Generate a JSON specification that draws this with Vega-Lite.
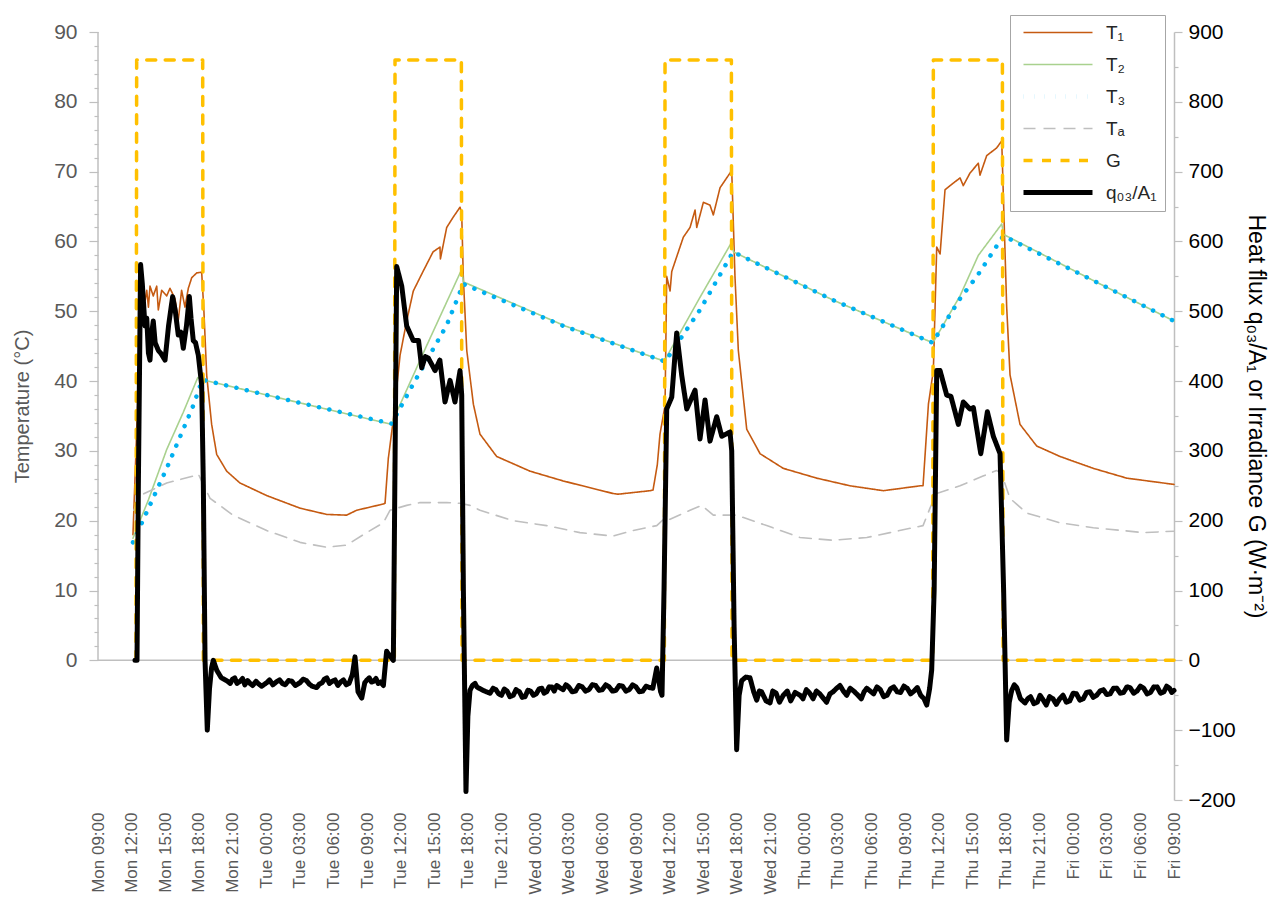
{
  "$schema": "https://vega.github.io/schema/vega-lite/v6.json",
  "width": 1076,
  "height": 768,
  "autosize": {"type": "none"},
  "padding": {"left": 98, "top": 32, "right": 105, "bottom": 99},
  "background": "white",
  "config": {
    "view": {"stroke": null},
    "font": "Liberation Sans",
    "axis": {"grid": false, "titleFontWeight": "normal", "labelOverlap": false},
    "line": {"strokeCap": "round", "strokeJoin": "round"}
  },
  "data": {"values": [
    {"s":"T1","h":12.12,"v":18},{"s":"T1","h":12.5,"v":35},{"s":"T1","h":12.8,"v":50},{"s":"T1","h":13.0,"v":53.5},{"s":"T1","h":13.2,"v":51.5},{"s":"T1","h":13.35,"v":53},{"s":"T1","h":13.5,"v":50.6},{"s":"T1","h":13.64,"v":53.6},{"s":"T1","h":13.93,"v":52.2},{"s":"T1","h":14.24,"v":53.6},{"s":"T1","h":14.38,"v":50.2},{"s":"T1","h":14.68,"v":53},{"s":"T1","h":15.13,"v":52.2},{"s":"T1","h":15.42,"v":53.3},{"s":"T1","h":15.87,"v":51.8},{"s":"T1","h":16.16,"v":48.7},{"s":"T1","h":16.46,"v":53},{"s":"T1","h":16.76,"v":50.6},{"s":"T1","h":17.06,"v":53.3},{"s":"T1","h":17.36,"v":54.8},{"s":"T1","h":17.81,"v":55.5},{"s":"T1","h":18.25,"v":55.6},{"s":"T1","h":18.45,"v":50},{"s":"T1","h":18.7,"v":40.8},{"s":"T1","h":19.14,"v":33.8},{"s":"T1","h":19.59,"v":29.5},{"s":"T1","h":20.48,"v":27.1},{"s":"T1","h":21.67,"v":25.4},{"s":"T1","h":24.05,"v":23.6},{"s":"T1","h":27.02,"v":21.8},{"s":"T1","h":29.41,"v":20.9},{"s":"T1","h":31.19,"v":20.8},{"s":"T1","h":32.08,"v":21.5},{"s":"T1","h":34.46,"v":22.4},{"s":"T1","h":34.61,"v":22.5},{"s":"T1","h":34.9,"v":28.9},{"s":"T1","h":35.35,"v":34.5},{"s":"T1","h":35.95,"v":43.7},{"s":"T1","h":36.54,"v":48.6},{"s":"T1","h":37.13,"v":52.9},{"s":"T1","h":38.0,"v":55.7},{"s":"T1","h":38.89,"v":58.5},{"s":"T1","h":39.51,"v":59.2},{"s":"T1","h":39.55,"v":57.5},{"s":"T1","h":40.11,"v":62},{"s":"T1","h":40.7,"v":63.5},{"s":"T1","h":41.3,"v":64.9},{"s":"T1","h":41.45,"v":64},{"s":"T1","h":41.59,"v":55},{"s":"T1","h":41.9,"v":44.4},{"s":"T1","h":42.49,"v":36.7},{"s":"T1","h":43.08,"v":32.4},{"s":"T1","h":44.57,"v":29.2},{"s":"T1","h":47.54,"v":27.1},{"s":"T1","h":50.49,"v":25.7},{"s":"T1","h":54.95,"v":23.9},{"s":"T1","h":55.4,"v":23.8},{"s":"T1","h":58.25,"v":24.3},{"s":"T1","h":58.52,"v":24.4},{"s":"T1","h":58.9,"v":28},{"s":"T1","h":59.14,"v":32.4},{"s":"T1","h":59.59,"v":36.5},{"s":"T1","h":59.74,"v":55},{"s":"T1","h":60.04,"v":52.9},{"s":"T1","h":60.19,"v":55.7},{"s":"T1","h":60.63,"v":57.8},{"s":"T1","h":61.22,"v":60.6},{"s":"T1","h":61.82,"v":62},{"s":"T1","h":62.27,"v":64.5},{"s":"T1","h":62.42,"v":62},{"s":"T1","h":63.01,"v":65.6},{"s":"T1","h":63.6,"v":65.2},{"s":"T1","h":63.9,"v":63.8},{"s":"T1","h":64.5,"v":67.7},{"s":"T1","h":65.39,"v":69.8},{"s":"T1","h":65.54,"v":70.2},{"s":"T1","h":65.83,"v":55},{"s":"T1","h":66.13,"v":44.4},{"s":"T1","h":66.88,"v":33.1},{"s":"T1","h":68.07,"v":29.6},{"s":"T1","h":70.14,"v":27.5},{"s":"T1","h":73.12,"v":26.1},{"s":"T1","h":76.1,"v":25},{"s":"T1","h":79.07,"v":24.3},{"s":"T1","h":82.34,"v":25},{"s":"T1","h":82.61,"v":25},{"s":"T1","h":83.09,"v":36.7},{"s":"T1","h":83.53,"v":41.5},{"s":"T1","h":83.83,"v":59.2},{"s":"T1","h":84.13,"v":58.2},{"s":"T1","h":84.57,"v":67.4},{"s":"T1","h":85.02,"v":68},{"s":"T1","h":85.91,"v":69.1},{"s":"T1","h":86.2,"v":68},{"s":"T1","h":86.8,"v":69.8},{"s":"T1","h":87.54,"v":71.2},{"s":"T1","h":87.69,"v":69.5},{"s":"T1","h":88.29,"v":72.3},{"s":"T1","h":89.18,"v":73.4},{"s":"T1","h":89.63,"v":74.4},{"s":"T1","h":89.86,"v":62},{"s":"T1","h":90.07,"v":50.7},{"s":"T1","h":90.37,"v":40.9},{"s":"T1","h":91.26,"v":33.8},{"s":"T1","h":92.75,"v":30.7},{"s":"T1","h":94.83,"v":29.2},{"s":"T1","h":97.8,"v":27.5},{"s":"T1","h":100.78,"v":26.1},{"s":"T1","h":105,"v":25.2},

    {"s":"T2","h":12.12,"v":17.5},{"s":"T2","h":13.5,"v":23},{"s":"T2","h":15.13,"v":30.2},{"s":"T2","h":16.6,"v":35.5},{"s":"T2","h":17.9,"v":40.5},{"s":"T2","h":18.3,"v":40.2},{"s":"T2","h":26.7,"v":37},{"s":"T2","h":35.2,"v":33.8},{"s":"T2","h":35.35,"v":34.5},{"s":"T2","h":38.3,"v":45},{"s":"T2","h":41.45,"v":56},{"s":"T2","h":41.6,"v":54.2},{"s":"T2","h":50.67,"v":47.9},{"s":"T2","h":59.6,"v":42.8},{"s":"T2","h":59.74,"v":43.5},{"s":"T2","h":62.71,"v":52},{"s":"T2","h":65.54,"v":59.9},{"s":"T2","h":65.7,"v":58.5},{"s":"T2","h":74.58,"v":51.6},{"s":"T2","h":83.45,"v":45.5},{"s":"T2","h":83.53,"v":45.6},{"s":"T2","h":85.91,"v":52.2},{"s":"T2","h":87.54,"v":58},{"s":"T2","h":89.63,"v":62.5},{"s":"T2","h":89.8,"v":61},{"s":"T2","h":97.8,"v":54.4},{"s":"T2","h":105,"v":48.6},

    {"s":"T3","h":12.12,"v":16.9},{"s":"T3","h":15.13,"v":27.5},{"s":"T3","h":17.5,"v":36.5},{"s":"T3","h":18.3,"v":40.2},{"s":"T3","h":26.7,"v":37},{"s":"T3","h":35.2,"v":33.9},{"s":"T3","h":37.13,"v":39.6},{"s":"T3","h":40.11,"v":48},{"s":"T3","h":41.59,"v":53.9},{"s":"T3","h":50.67,"v":47.8},{"s":"T3","h":59.6,"v":42.8},{"s":"T3","h":62.71,"v":50.2},{"s":"T3","h":65.66,"v":58.5},{"s":"T3","h":74.58,"v":51.6},{"s":"T3","h":83.45,"v":45.5},{"s":"T3","h":85.91,"v":51.8},{"s":"T3","h":87.54,"v":55.3},{"s":"T3","h":89.77,"v":60.8},{"s":"T3","h":97.8,"v":54.4},{"s":"T3","h":105,"v":48.6},

    {"s":"Ta","h":12.2,"v":21.5},{"s":"Ta","h":12.75,"v":23.6},{"s":"Ta","h":15.13,"v":25.4},{"s":"Ta","h":17.5,"v":26.4},{"s":"Ta","h":17.95,"v":26.7},{"s":"Ta","h":18.3,"v":25.5},{"s":"Ta","h":19.0,"v":23.2},{"s":"Ta","h":21.05,"v":20.8},{"s":"Ta","h":24.05,"v":18.6},{"s":"Ta","h":27.02,"v":16.9},{"s":"Ta","h":29.41,"v":16.2},{"s":"Ta","h":31.19,"v":16.5},{"s":"Ta","h":32.97,"v":18.3},{"s":"Ta","h":34.46,"v":19.7},{"s":"Ta","h":35.05,"v":21.5},{"s":"Ta","h":36.54,"v":22.2},{"s":"Ta","h":37.73,"v":22.6},{"s":"Ta","h":40.11,"v":22.6},{"s":"Ta","h":41.3,"v":22.5},{"s":"Ta","h":42.19,"v":22.2},{"s":"Ta","h":43.08,"v":21.5},{"s":"Ta","h":46.05,"v":20.0},{"s":"Ta","h":49.03,"v":19.3},{"s":"Ta","h":52.0,"v":18.3},{"s":"Ta","h":54.95,"v":17.8},{"s":"Ta","h":56.73,"v":18.6},{"s":"Ta","h":58.85,"v":19.3},{"s":"Ta","h":59.59,"v":20.4},{"s":"Ta","h":60.04,"v":20.2},{"s":"Ta","h":61.82,"v":21.5},{"s":"Ta","h":62.86,"v":22.2},{"s":"Ta","h":63.9,"v":20.8},{"s":"Ta","h":65.98,"v":20.8},{"s":"Ta","h":68.66,"v":19.3},{"s":"Ta","h":71.63,"v":17.6},{"s":"Ta","h":74.58,"v":17.2},{"s":"Ta","h":77.59,"v":17.6},{"s":"Ta","h":79.66,"v":18.3},{"s":"Ta","h":82.61,"v":19.3},{"s":"Ta","h":83.23,"v":21.8},{"s":"Ta","h":83.83,"v":23.9},{"s":"Ta","h":85.91,"v":25.0},{"s":"Ta","h":87.96,"v":26.4},{"s":"Ta","h":89.18,"v":27.2},{"s":"Ta","h":89.6,"v":26.8},{"s":"Ta","h":90.37,"v":23.2},{"s":"Ta","h":91.86,"v":21.1},{"s":"Ta","h":94.83,"v":19.7},{"s":"Ta","h":97.8,"v":19.0},{"s":"Ta","h":102.26,"v":18.3},{"s":"Ta","h":105,"v":18.5},

    {"s":"G","h":12.39,"v":0},{"s":"G","h":12.45,"v":860},{"s":"G","h":18.34,"v":860},{"s":"G","h":18.4,"v":0},{"s":"G","h":35.44,"v":0},{"s":"G","h":35.5,"v":860},{"s":"G","h":41.42,"v":860},{"s":"G","h":41.48,"v":0},{"s":"G","h":59.53,"v":0},{"s":"G","h":59.59,"v":860},{"s":"G","h":65.51,"v":860},{"s":"G","h":65.57,"v":0},{"s":"G","h":83.47,"v":0},{"s":"G","h":83.53,"v":860},{"s":"G","h":89.69,"v":860},{"s":"G","h":89.75,"v":0},{"s":"G","h":105,"v":0},

    {"s":"q","h":12.3,"v":0},{"s":"q","h":12.48,"v":0},{"s":"q","h":12.6,"v":250},{"s":"q","h":12.8,"v":567},{"s":"q","h":12.95,"v":540},{"s":"q","h":13.19,"v":479},{"s":"q","h":13.35,"v":490},{"s":"q","h":13.5,"v":440},{"s":"q","h":13.64,"v":430},{"s":"q","h":13.8,"v":470},{"s":"q","h":13.93,"v":486},{"s":"q","h":14.1,"v":455},{"s":"q","h":14.38,"v":444},{"s":"q","h":14.6,"v":440},{"s":"q","h":14.98,"v":430},{"s":"q","h":15.3,"v":480},{"s":"q","h":15.66,"v":521},{"s":"q","h":15.9,"v":500},{"s":"q","h":16.16,"v":466},{"s":"q","h":16.4,"v":470},{"s":"q","h":16.61,"v":447},{"s":"q","h":16.9,"v":480},{"s":"q","h":17.15,"v":521},{"s":"q","h":17.3,"v":490},{"s":"q","h":17.5,"v":458},{"s":"q","h":17.7,"v":455},{"s":"q","h":17.95,"v":437},{"s":"q","h":18.25,"v":394},{"s":"q","h":18.4,"v":250},{"s":"q","h":18.55,"v":0},{"s":"q","h":18.75,"v":-100},{"s":"q","h":18.95,"v":-40},{"s":"q","h":19.14,"v":-10},{"s":"q","h":19.29,"v":0},{"s":"q","h":19.59,"v":-14},{"s":"q","h":20.0,"v":-25},{"s":"q","h":20.48,"v":-29},{"s":"q","h":20.8,"v":-33},{"s":"q","h":21.0,"v":-27},{"s":"q","h":21.2,"v":-25},{"s":"q","h":21.4,"v":-33},{"s":"q","h":21.67,"v":-30},{"s":"q","h":21.9,"v":-26},{"s":"q","h":22.1,"v":-35},{"s":"q","h":22.35,"v":-29},{"s":"q","h":22.56,"v":-33},{"s":"q","h":22.8,"v":-36},{"s":"q","h":23.1,"v":-30},{"s":"q","h":23.35,"v":-34},{"s":"q","h":23.6,"v":-37},{"s":"q","h":24.05,"v":-32},{"s":"q","h":24.3,"v":-28},{"s":"q","h":24.6,"v":-35},{"s":"q","h":24.9,"v":-31},{"s":"q","h":25.2,"v":-28},{"s":"q","h":25.45,"v":-33},{"s":"q","h":25.7,"v":-35},{"s":"q","h":26.0,"v":-29},{"s":"q","h":26.3,"v":-30},{"s":"q","h":26.6,"v":-36},{"s":"q","h":27.02,"v":-32},{"s":"q","h":27.3,"v":-27},{"s":"q","h":27.6,"v":-29},{"s":"q","h":27.85,"v":-34},{"s":"q","h":28.1,"v":-37},{"s":"q","h":28.51,"v":-39},{"s":"q","h":28.75,"v":-34},{"s":"q","h":29.0,"v":-32},{"s":"q","h":29.2,"v":-27},{"s":"q","h":29.41,"v":-25},{"s":"q","h":29.65,"v":-33},{"s":"q","h":29.9,"v":-30},{"s":"q","h":30.15,"v":-28},{"s":"q","h":30.4,"v":-36},{"s":"q","h":30.65,"v":-31},{"s":"q","h":30.9,"v":-28},{"s":"q","h":31.15,"v":-35},{"s":"q","h":31.4,"v":-33},{"s":"q","h":31.7,"v":-20},{"s":"q","h":31.93,"v":5},{"s":"q","h":32.2,"v":-45},{"s":"q","h":32.53,"v":-54},{"s":"q","h":32.8,"v":-32},{"s":"q","h":33.0,"v":-28},{"s":"q","h":33.2,"v":-25},{"s":"q","h":33.4,"v":-31},{"s":"q","h":33.6,"v":-30},{"s":"q","h":33.8,"v":-26},{"s":"q","h":34.0,"v":-33},{"s":"q","h":34.2,"v":-31},{"s":"q","h":34.46,"v":-36},{"s":"q","h":34.75,"v":13},{"s":"q","h":35.05,"v":6},{"s":"q","h":35.35,"v":0},{"s":"q","h":35.65,"v":564},{"s":"q","h":36.1,"v":536},{"s":"q","h":36.54,"v":479},{"s":"q","h":37.13,"v":458},{"s":"q","h":37.6,"v":458},{"s":"q","h":37.88,"v":419},{"s":"q","h":38.2,"v":435},{"s":"q","h":38.47,"v":433},{"s":"q","h":39.07,"v":415},{"s":"q","h":39.5,"v":430},{"s":"q","h":39.96,"v":370},{"s":"q","h":40.41,"v":401},{"s":"q","h":40.85,"v":370},{"s":"q","h":41.3,"v":415},{"s":"q","h":41.45,"v":380},{"s":"q","h":41.6,"v":100},{"s":"q","h":41.83,"v":-188},{"s":"q","h":42.0,"v":-80},{"s":"q","h":42.19,"v":-43},{"s":"q","h":42.4,"v":-36},{"s":"q","h":42.64,"v":-33},{"s":"q","h":42.8,"v":-38},{"s":"q","h":43.0,"v":-40},{"s":"q","h":43.5,"v":-44},{"s":"q","h":43.98,"v":-47},{"s":"q","h":44.25,"v":-40},{"s":"q","h":44.5,"v":-42},{"s":"q","h":44.75,"v":-48},{"s":"q","h":45.0,"v":-50},{"s":"q","h":45.25,"v":-41},{"s":"q","h":45.5,"v":-44},{"s":"q","h":45.75,"v":-52},{"s":"q","h":46.05,"v":-50},{"s":"q","h":46.3,"v":-42},{"s":"q","h":46.6,"v":-45},{"s":"q","h":46.85,"v":-53},{"s":"q","h":47.1,"v":-52},{"s":"q","h":47.35,"v":-43},{"s":"q","h":47.6,"v":-44},{"s":"q","h":47.85,"v":-50},{"s":"q","h":48.1,"v":-48},{"s":"q","h":48.35,"v":-41},{"s":"q","h":48.6,"v":-40},{"s":"q","h":48.8,"v":-47},{"s":"q","h":49.03,"v":-45},{"s":"q","h":49.25,"v":-38},{"s":"q","h":49.5,"v":-38},{"s":"q","h":49.7,"v":-44},{"s":"q","h":49.93,"v":-36},{"s":"q","h":50.2,"v":-39},{"s":"q","h":50.5,"v":-42},{"s":"q","h":50.75,"v":-35},{"s":"q","h":51.0,"v":-38},{"s":"q","h":51.3,"v":-45},{"s":"q","h":51.6,"v":-44},{"s":"q","h":51.9,"v":-36},{"s":"q","h":52.2,"v":-38},{"s":"q","h":52.5,"v":-44},{"s":"q","h":52.8,"v":-42},{"s":"q","h":53.1,"v":-35},{"s":"q","h":53.4,"v":-36},{"s":"q","h":53.7,"v":-43},{"s":"q","h":54.0,"v":-42},{"s":"q","h":54.3,"v":-35},{"s":"q","h":54.6,"v":-38},{"s":"q","h":54.9,"v":-44},{"s":"q","h":55.2,"v":-43},{"s":"q","h":55.5,"v":-36},{"s":"q","h":55.8,"v":-37},{"s":"q","h":56.1,"v":-44},{"s":"q","h":56.4,"v":-42},{"s":"q","h":56.7,"v":-35},{"s":"q","h":57.0,"v":-38},{"s":"q","h":57.3,"v":-45},{"s":"q","h":57.6,"v":-44},{"s":"q","h":57.9,"v":-37},{"s":"q","h":58.2,"v":-39},{"s":"q","h":58.5,"v":-40},{"s":"q","h":58.85,"v":-11},{"s":"q","h":59.2,"v":-45},{"s":"q","h":59.32,"v":-50},{"s":"q","h":59.5,"v":100},{"s":"q","h":59.74,"v":360},{"s":"q","h":60.19,"v":377},{"s":"q","h":60.63,"v":469},{"s":"q","h":61.08,"v":408},{"s":"q","h":61.53,"v":360},{"s":"q","h":62.27,"v":387},{"s":"q","h":62.71,"v":317},{"s":"q","h":63.16,"v":373},{"s":"q","h":63.6,"v":314},{"s":"q","h":64.2,"v":349},{"s":"q","h":64.65,"v":321},{"s":"q","h":65.39,"v":327},{"s":"q","h":65.54,"v":300},{"s":"q","h":65.75,"v":50},{"s":"q","h":65.98,"v":-128},{"s":"q","h":66.2,"v":-50},{"s":"q","h":66.43,"v":-29},{"s":"q","h":66.8,"v":-24},{"s":"q","h":67.17,"v":-25},{"s":"q","h":67.5,"v":-45},{"s":"q","h":67.77,"v":-57},{"s":"q","h":68.0,"v":-44},{"s":"q","h":68.2,"v":-45},{"s":"q","h":68.6,"v":-58},{"s":"q","h":68.96,"v":-61},{"s":"q","h":69.2,"v":-44},{"s":"q","h":69.5,"v":-47},{"s":"q","h":69.8,"v":-60},{"s":"q","h":70.14,"v":-50},{"s":"q","h":70.5,"v":-44},{"s":"q","h":70.8,"v":-58},{"s":"q","h":71.2,"v":-46},{"s":"q","h":71.63,"v":-50},{"s":"q","h":71.9,"v":-55},{"s":"q","h":72.2,"v":-42},{"s":"q","h":72.5,"v":-47},{"s":"q","h":72.8,"v":-55},{"s":"q","h":73.1,"v":-44},{"s":"q","h":73.4,"v":-48},{"s":"q","h":73.7,"v":-54},{"s":"q","h":74.0,"v":-60},{"s":"q","h":74.3,"v":-48},{"s":"q","h":74.58,"v":-45},{"s":"q","h":74.9,"v":-40},{"s":"q","h":75.2,"v":-36},{"s":"q","h":75.5,"v":-44},{"s":"q","h":75.8,"v":-50},{"s":"q","h":76.1,"v":-40},{"s":"q","h":76.5,"v":-45},{"s":"q","h":76.8,"v":-50},{"s":"q","h":77.1,"v":-55},{"s":"q","h":77.35,"v":-45},{"s":"q","h":77.59,"v":-40},{"s":"q","h":77.9,"v":-44},{"s":"q","h":78.2,"v":-48},{"s":"q","h":78.5,"v":-38},{"s":"q","h":78.8,"v":-42},{"s":"q","h":79.1,"v":-52},{"s":"q","h":79.4,"v":-50},{"s":"q","h":79.7,"v":-41},{"s":"q","h":80.0,"v":-38},{"s":"q","h":80.3,"v":-45},{"s":"q","h":80.6,"v":-46},{"s":"q","h":80.9,"v":-37},{"s":"q","h":81.2,"v":-40},{"s":"q","h":81.5,"v":-48},{"s":"q","h":81.8,"v":-44},{"s":"q","h":82.1,"v":-39},{"s":"q","h":82.4,"v":-50},{"s":"q","h":82.7,"v":-55},{"s":"q","h":82.94,"v":-64},{"s":"q","h":83.2,"v":-40},{"s":"q","h":83.38,"v":-14},{"s":"q","h":83.6,"v":100},{"s":"q","h":83.83,"v":415},{"s":"q","h":84.13,"v":415},{"s":"q","h":84.72,"v":380},{"s":"q","h":85.1,"v":378},{"s":"q","h":85.76,"v":338},{"s":"q","h":86.2,"v":370},{"s":"q","h":86.8,"v":360},{"s":"q","h":87.1,"v":362},{"s":"q","h":87.76,"v":296},{"s":"q","h":88.35,"v":356},{"s":"q","h":88.88,"v":321},{"s":"q","h":89.48,"v":296},{"s":"q","h":89.8,"v":100},{"s":"q","h":90.07,"v":-114},{"s":"q","h":90.3,"v":-60},{"s":"q","h":90.52,"v":-43},{"s":"q","h":90.75,"v":-35},{"s":"q","h":90.97,"v":-39},{"s":"q","h":91.3,"v":-55},{"s":"q","h":91.71,"v":-61},{"s":"q","h":91.95,"v":-55},{"s":"q","h":92.2,"v":-52},{"s":"q","h":92.5,"v":-62},{"s":"q","h":92.8,"v":-60},{"s":"q","h":93.05,"v":-50},{"s":"q","h":93.34,"v":-57},{"s":"q","h":93.6,"v":-64},{"s":"q","h":93.9,"v":-52},{"s":"q","h":94.2,"v":-55},{"s":"q","h":94.5,"v":-63},{"s":"q","h":94.8,"v":-55},{"s":"q","h":95.1,"v":-50},{"s":"q","h":95.4,"v":-60},{"s":"q","h":95.7,"v":-58},{"s":"q","h":96.0,"v":-47},{"s":"q","h":96.3,"v":-48},{"s":"q","h":96.6,"v":-57},{"s":"q","h":96.9,"v":-55},{"s":"q","h":97.2,"v":-46},{"s":"q","h":97.5,"v":-45},{"s":"q","h":97.8,"v":-53},{"s":"q","h":98.1,"v":-50},{"s":"q","h":98.4,"v":-44},{"s":"q","h":98.7,"v":-42},{"s":"q","h":99.0,"v":-49},{"s":"q","h":99.3,"v":-48},{"s":"q","h":99.6,"v":-40},{"s":"q","h":99.9,"v":-40},{"s":"q","h":100.2,"v":-47},{"s":"q","h":100.5,"v":-46},{"s":"q","h":100.8,"v":-38},{"s":"q","h":101.08,"v":-39},{"s":"q","h":101.4,"v":-47},{"s":"q","h":101.7,"v":-44},{"s":"q","h":102.0,"v":-37},{"s":"q","h":102.3,"v":-40},{"s":"q","h":102.6,"v":-48},{"s":"q","h":102.9,"v":-46},{"s":"q","h":103.2,"v":-38},{"s":"q","h":103.5,"v":-38},{"s":"q","h":103.8,"v":-47},{"s":"q","h":104.1,"v":-45},{"s":"q","h":104.35,"v":-37},{"s":"q","h":104.6,"v":-40},{"s":"q","h":104.8,"v":-46},{"s":"q","h":105,"v":-43}
  ]},
  "layer": [
    {
      "layer": [
        {
          "data": {"values": [{}]},
          "mark": {"type": "rule", "color": "#BFBFBF", "strokeWidth": 1.5},
          "encoding": {
            "y": {
              "datum": 0, "type": "quantitative",
              "scale": {"domain": [-20, 90], "nice": false, "zero": false},
              "axis": {
                "orient": "left", "title": "Temperature (°C)",
                "values": [0,2,4,6,8,10,12,14,16,18,20,22,24,26,28,30,32,34,36,38,40,42,44,46,48,50,52,54,56,58,60,62,64,66,68,70,72,74,76,78,80,82,84,86,88,90],
                "labelExpr": "datum.value % 10 === 0 ? datum.label : ''",
                "tickSize": {"condition": {"test": "datum.value % 10 === 0", "value": 9}, "value": 4},
                "tickColor": "#BFBFBF", "tickWidth": 1.2, "domain": false,
                "labelColor": "#595959", "labelFontSize": 21, "labelPadding": 12,
                "labelOverlap": false, "labelFlush": false,
                "titleColor": "#595959", "titleFontSize": 20, "titlePadding": 21, "titleY": 374
              }
            }
          }
        },
        {
          "data": {"values": [{}]},
          "mark": {"type": "rule", "color": "#BFBFBF", "strokeWidth": 1.5},
          "encoding": {
            "x": {
              "datum": 9, "type": "quantitative",
              "scale": {"domain": [9, 105], "nice": false, "zero": false},
              "axis": {
                "orient": "bottom", "title": null,
                "values": [9,12,15,18,21,24,27,30,33,36,39,42,45,48,51,54,57,60,63,66,69,72,75,78,81,84,87,90,93,96,99,102,105],
                "labelExpr": "(['Mon','Tue','Wed','Thu','Fri'])[floor(datum.value/24)] + ' ' + (datum.value % 24 < 10 ? '0' : '') + (datum.value % 24) + ':00'",
                "labelAngle": -90, "domain": false, "ticks": false,
                "labelColor": "#595959", "labelFontSize": 17, "labelPadding": 12,
                "labelOverlap": false, "labelBound": false, "labelFlush": false
              }
            },
            "y": {
              "datum": 0, "type": "quantitative",
              "scale": {"domain": [-20, 90], "nice": false, "zero": false},
              "axis": {
                "orient": "left", "title": "Temperature (°C)",
                "values": [0,2,4,6,8,10,12,14,16,18,20,22,24,26,28,30,32,34,36,38,40,42,44,46,48,50,52,54,56,58,60,62,64,66,68,70,72,74,76,78,80,82,84,86,88,90],
                "labelExpr": "datum.value % 10 === 0 ? datum.label : ''",
                "tickSize": {"condition": {"test": "datum.value % 10 === 0", "value": 9}, "value": 4},
                "tickColor": "#BFBFBF", "tickWidth": 1.2, "domain": false,
                "labelColor": "#595959", "labelFontSize": 21, "labelPadding": 12,
                "labelOverlap": false, "labelFlush": false,
                "titleColor": "#595959", "titleFontSize": 20, "titlePadding": 21, "titleY": 374
              }
            },
            "y2": {"datum": 90}
          }
        },
        {
          "transform": [{"filter": "indexof(['T1','T2','T3','Ta'], datum.s) >= 0"}],
          "mark": {"type": "line", "strokeCap": "round", "strokeJoin": "round"},
          "encoding": {
            "x": {
              "field": "h", "type": "quantitative",
              "scale": {"domain": [9, 105], "nice": false, "zero": false},
              "axis": {
                "orient": "bottom", "title": null,
                "values": [9,12,15,18,21,24,27,30,33,36,39,42,45,48,51,54,57,60,63,66,69,72,75,78,81,84,87,90,93,96,99,102,105],
                "labelExpr": "(['Mon','Tue','Wed','Thu','Fri'])[floor(datum.value/24)] + ' ' + (datum.value % 24 < 10 ? '0' : '') + (datum.value % 24) + ':00'",
                "labelAngle": -90, "domain": false, "ticks": false,
                "labelColor": "#595959", "labelFontSize": 17, "labelPadding": 12,
                "labelOverlap": false, "labelBound": false, "labelFlush": false
              }
            },
            "y": {
              "field": "v", "type": "quantitative",
              "scale": {"domain": [-20, 90], "nice": false, "zero": false},
              "axis": {
                "orient": "left", "title": "Temperature (°C)",
                "values": [0,2,4,6,8,10,12,14,16,18,20,22,24,26,28,30,32,34,36,38,40,42,44,46,48,50,52,54,56,58,60,62,64,66,68,70,72,74,76,78,80,82,84,86,88,90],
                "labelExpr": "datum.value % 10 === 0 ? datum.label : ''",
                "tickSize": {"condition": {"test": "datum.value % 10 === 0", "value": 9}, "value": 4},
                "tickColor": "#BFBFBF", "tickWidth": 1.2, "domain": false,
                "labelColor": "#595959", "labelFontSize": 21, "labelPadding": 12,
                "labelOverlap": false, "labelFlush": false,
                "titleColor": "#595959", "titleFontSize": 20, "titlePadding": 21, "titleY": 374
              }
            },
            "color": {
              "field": "s", "type": "nominal",
              "scale": {"domain": ["T1","T2","T3","Ta","G","q"], "range": ["#C55A11","#A9D18E","#00B0F0","#BFBFBF","#FFC000","#000000"]},
              "legend": {
                "orient": "none", "legendX": 912, "legendY": -17, "title": null,
                "labelExpr": "datum.label == 'T1' ? 'T₁' : datum.label == 'T2' ? 'T₂' : datum.label == 'T3' ? 'T₃' : datum.label == 'Ta' ? 'Tₐ' : datum.label == 'G' ? 'G' : 'q₀₃/A₁'",
                "symbolType": "M-0.8,0H13.0", "symbolSize": 100, "labelOffset": 69,
                "labelFontSize": 19, "labelColor": "#262626", "labelFont": "Liberation Sans",
                "strokeColor": "#A6A6A6", "fillColor": "white", "padding": 8, "rowPadding": 12,
                "encode": {"symbols": {
                  "update": {
                    "strokeDash": {"signal": "datum.value === 'T3' ? [5.2, 5.8] : datum.value === 'Ta' ? [12, 8] : datum.value === 'G' ? [12, 5] : [1, 0]"},
                    "strokeWidth": {"signal": "datum.value === 'T3' ? 5.2 : datum.value === 'G' ? 3.5 : datum.value === 'q' ? 5 : 1.6"}
                  }
                }}
              }
            },
            "strokeDash": {
              "field": "s", "type": "nominal",
              "scale": {"domain": ["T1","T2","T3","Ta","G","q"], "range": [[1,0],[1,0],[0.1,10.5],[12,8],[9,9.5],[1,0]]},
              "legend": null
            },
            "strokeWidth": {
              "field": "s", "type": "nominal",
              "scale": {"type": "ordinal", "domain": ["T1","T2","T3","Ta","G","q"], "range": [1.6,1.6,4.5,1.6,3.5,5]},
              "legend": null
            }
          }
        }
      ]
    },
    {
      "transform": [{"filter": "datum.s == 'G' || datum.s == 'q'"}],
      "mark": {"type": "line", "strokeCap": "round", "strokeJoin": "round"},
      "encoding": {
        "x": {
          "field": "h", "type": "quantitative",
          "scale": {"domain": [9, 105], "nice": false, "zero": false},
          "axis": {
            "orient": "bottom", "title": null,
            "values": [9,12,15,18,21,24,27,30,33,36,39,42,45,48,51,54,57,60,63,66,69,72,75,78,81,84,87,90,93,96,99,102,105],
            "labelExpr": "(['Mon','Tue','Wed','Thu','Fri'])[floor(datum.value/24)] + ' ' + (datum.value % 24 < 10 ? '0' : '') + (datum.value % 24) + ':00'",
            "labelAngle": -90, "domain": false, "ticks": false,
            "labelColor": "#595959", "labelFontSize": 17, "labelPadding": 12,
            "labelOverlap": false, "labelBound": false, "labelFlush": false
          }
        },
        "y": {
          "field": "v", "type": "quantitative",
          "scale": {"domain": [-200, 900], "nice": false, "zero": false},
          "axis": {
            "orient": "right", "title": "Heat flux q₀₃/A₁ or Irradiance G (W·m⁻²)",
            "values": [-200,-150,-100,-50,0,50,100,150,200,250,300,350,400,450,500,550,600,650,700,750,800,850,900],
            "labelExpr": "datum.value % 100 === 0 ? datum.label : ''",
            "tickSize": {"condition": {"test": "datum.value % 100 === 0", "value": 8}, "value": 4},
            "tickColor": "#BFBFBF", "tickWidth": 1.2, "domain": true, "domainColor": "#BFBFBF", "domainWidth": 1.5,
            "labelColor": "#000000", "labelFontSize": 21, "labelPadding": 6,
            "labelOverlap": false, "labelFlush": false,
            "titleColor": "#000000", "titleFontSize": 23, "titlePadding": 8
          }
        },
        "color": {
          "field": "s", "type": "nominal",
          "scale": {"domain": ["T1","T2","T3","Ta","G","q"], "range": ["#C55A11","#A9D18E","#00B0F0","#BFBFBF","#FFC000","#000000"]},
          "legend": null
        },
        "strokeDash": {
          "field": "s", "type": "nominal",
          "scale": {"domain": ["T1","T2","T3","Ta","G","q"], "range": [[1,0],[1,0],[0.1,10.5],[12,8],[9,9.5],[1,0]]},
          "legend": null
        },
        "strokeWidth": {
          "field": "s", "type": "nominal",
          "scale": {"type": "ordinal", "domain": ["T1","T2","T3","Ta","G","q"], "range": [1.6,1.6,4.5,1.6,3.5,5]},
          "legend": null
        }
      }
    }
  ],
  "resolve": {"scale": {"y": "independent"}}
}
